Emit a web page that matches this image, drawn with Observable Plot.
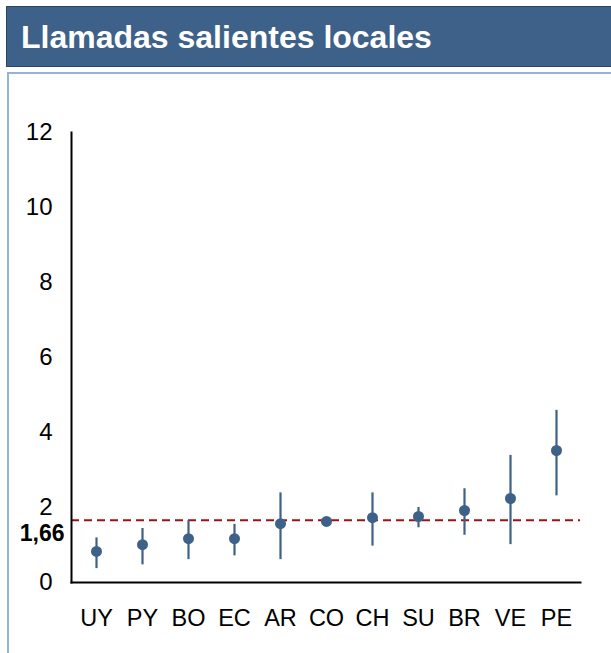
<!DOCTYPE html>
<html>
<head>
<meta charset="utf-8">
<script src="https://cdn.jsdelivr.net/npm/d3@7"></script>
<script src="https://cdn.jsdelivr.net/npm/@observablehq/plot@0.6"></script>
<style>
  html, body { margin: 0; padding: 0; background: #fff; width: 611px; height: 653px; overflow: hidden; font-family: "Liberation Sans", Arial, sans-serif; }
  #header { position: absolute; left: 6px; top: 6px; width: 640px; height: 59px; background: #3E6189; border: 1px solid #2B4566; }
  #header h1 { margin: 0; position: absolute; left: 14px; top: 11px; font-size: 32px; font-weight: bold; color: #fff; line-height: 38px; }
  #frame { position: absolute; left: 7px; top: 72px; width: 640px; height: 640px; border: 2px solid #95B3D7; box-sizing: border-box; }
  #chart { position: absolute; left: 0; top: 76px; }
</style>
</head>
<body>
<div id="header"><h1>Llamadas salientes locales</h1></div>
<div id="frame"></div>
<div id="chart"></div>
<script>
const countries = ["UY","PY","BO","EC","AR","CO","CH","SU","BR","VE","PE"];
const means = [0.83,1.01,1.17,1.17,1.57,1.63,1.73,1.76,1.92,2.24,3.52];
const lows  = [0.37,0.47,0.61,0.71,0.61,1.60,0.97,1.46,1.26,1.01,2.31];
const highs = [1.19,1.44,1.65,1.55,2.39,1.66,2.39,2.00,2.50,3.39,4.59];
const yTicks = [0,2,4,6,8,10,12];
const refValue = 1.66;
const refLabel = ["1,66"];

const data = countries.map((c, i) => ({country: c, mean: means[i], low: lows[i], high: highs[i]}));
const blue = "#3E6189";

const chart = Plot.plot({
  width: 611,
  height: 577,
  marginLeft: 71,
  marginRight: 31,
  marginTop: 56,
  marginBottom: 71,
  style: {fontFamily: "'Liberation Sans', Arial, sans-serif", background: "transparent"},
  x: {type: "band", domain: countries, padding: 0},
  y: {domain: [0, 12]},
  marks: [
    Plot.axisY({ticks: yTicks, tickSize: 0, tickPadding: 19, fontSize: 24, label: null, fill: "#000"}),
    Plot.axisX({tickSize: 0, tickPadding: 27, fontSize: 23.5, label: null, fill: "#000"}),
    Plot.ruleY([refValue], {stroke: "#A50F0F", strokeWidth: 2.2, strokeDasharray: "8,5"}),
    Plot.ruleX(data, {x: "country", y1: "low", y2: "high", stroke: blue, strokeWidth: 2.2}),
    Plot.dot(data, {x: "country", y: "mean", r: 5.5, fill: blue, stroke: "none"}),
    Plot.frame({anchor: "left", stroke: "#000", strokeWidth: 2}),
    Plot.frame({anchor: "bottom", stroke: "#000", strokeWidth: 2}),
    Plot.text(refLabel, {text: d => d, y: refValue, frameAnchor: "left", textAnchor: "end", dx: -7, dy: 13, fontSize: 23, fontWeight: "bold", fill: "#000"})
  ]
});
document.getElementById("chart").appendChild(chart);
</script>
</body>
</html>
